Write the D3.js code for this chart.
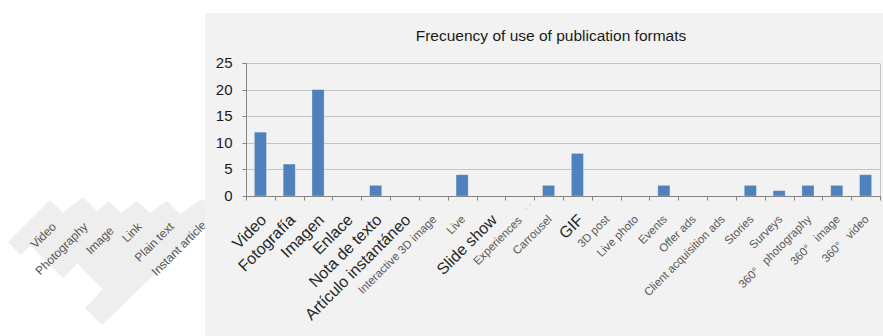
<!DOCTYPE html>
<html>
<head>
<meta charset="utf-8">
<script src="https://cdn.jsdelivr.net/npm/d3@7"></script>
<style>
  html, body { margin: 0; padding: 0; background: #ffffff; }
  svg { display: block; font-family: "Liberation Sans", Arial, sans-serif; }
</style>
</head>
<body>
<svg id="chart" width="883" height="336"></svg>
<script>
// ---- data ----
const title = "Frecuency of use of publication formats";
const categories = [
  "Video", "Fotografía", "Imagen", "Enlace", "Nota de texto", "Artículo instantáneo",
  "Interactive 3D image", "Live", "Slide show", "Experiences", "Carrousel", "GIF",
  "3D post", "Live photo", "Events", "Offer ads", "Client acquisition ads", "Stories",
  "Surveys", "360°\u00a0\u00a0\u00a0photography", "360°\u00a0\u00a0\u00a0image", "360°\u00a0\u00a0\u00a0video"
];
const values = [12, 6, 20, 0, 2, 0, 0, 4, 0, 0, 2, 8, 0, 0, 2, 0, 0, 2, 1, 2, 2, 4];
const yTicks = [0, 5, 10, 15, 20, 25];
const overlayLabels = ["Video", "Photography", "Image", "Link", "Plain text", "Instant article"];

// ---- layout / style ----
const W = 883, H = 336;
const plot = { left: 246, right: 880, top: 63, bottom: 196 };
const bigLabels = new Set(["Video", "Fotografía", "Imagen", "Enlace", "Nota de texto",
  "Artículo instantáneo", "Slide show", "GIF"]);

const svg = d3.select("#chart");

// overlay of translated labels (left, white area)
const overlayShape = [
  [8,242],[50,200],[63,213],[83,197],[97,211],[109,201],[121,213],[137,201],[150,213],
  [167,201],[180,214],[202,199],[215,210],[215,216],[102,325],[85,308],[103,289],
  [93,279],[77.5,263.5],[63,278],[50,265],[30.5,245.5],[21,255]
];
svg.append("path")
  .attr("d", d3.line()(overlayShape) + "Z")
  .attr("fill", "#eeeeee");
const overlayEnds = [[57,227.5],[88.5,227.5],[114.5,231.5],[142.5,227.5],[174.5,227.5],[207,226]];
svg.append("g").selectAll("text")
  .data(overlayLabels)
  .join("text")
  .attr("transform", (d, i) => `translate(${overlayEnds[i][0]},${overlayEnds[i][1]}) rotate(-45)`)
  .attr("text-anchor", "end")
  .attr("font-size", "12px")
  .attr("fill", "#555555")
  .text(d => d);

// chart panel
svg.append("rect")
  .attr("x", 205).attr("y", 13)
  .attr("width", W - 205).attr("height", H - 13)
  .attr("fill", "#f2f2f2");

// title
svg.append("text")
  .attr("x", 551).attr("y", 40.5)
  .attr("text-anchor", "middle")
  .attr("font-size", "15.5px")
  .attr("fill", "#1a1a1a")
  .text(title);

// scales
const x = d3.scaleBand().domain(categories).range([plot.left, plot.right]);
const y = d3.scaleLinear().domain([0, 25]).range([plot.bottom, plot.top]);
const px = v => Math.round(v) + 0.5;

// gridlines
svg.append("g").selectAll("line")
  .data(yTicks.filter(t => t > 0))
  .join("line")
  .attr("x1", plot.left).attr("x2", plot.right)
  .attr("y1", d => px(y(d))).attr("y2", d => px(y(d)))
  .attr("stroke", "#c4c4c4").attr("stroke-width", 1);
// plot area right border
svg.append("line")
  .attr("x1", px(plot.right)).attr("x2", px(plot.right))
  .attr("y1", px(y(25))).attr("y2", px(y(0)))
  .attr("stroke", "#c4c4c4");

// bars
const barW = x.bandwidth() * 0.42;
svg.append("g").selectAll("rect")
  .data(values.map((v, i) => ({ c: categories[i], v })))
  .join("rect")
  .attr("x", d => x(d.c) + (x.bandwidth() - barW) / 2)
  .attr("width", barW)
  .attr("y", d => y(d.v))
  .attr("height", d => y(0) - y(d.v))
  .attr("fill", "#4f81bd")
  .attr("stroke", "rgba(255,255,255,0.35)")
  .attr("stroke-width", 0.8);

// y axis
const yAxis = svg.append("g").attr("transform", `translate(${px(plot.left)},0)`)
  .call(d3.axisLeft(y).tickValues(yTicks).tickSize(4).tickPadding(10).tickFormat(d3.format("d")));
yAxis.select(".domain").attr("stroke", "#868686").attr("d", `M-4,${px(y(25))}H0V${px(y(0))}`);
yAxis.selectAll(".tick line").attr("stroke", "#868686");
yAxis.selectAll(".tick").attr("transform", d => `translate(0,${px(y(d))})`);
yAxis.selectAll(".tick text")
  .attr("font-size", "15px")
  .attr("font-family", "Liberation Sans, Arial, sans-serif")
  .attr("fill", "#1a1a1a");

// x axis line + ticks at band boundaries
svg.append("line")
  .attr("x1", plot.left).attr("x2", plot.right + 1)
  .attr("y1", px(y(0))).attr("y2", px(y(0)))
  .attr("stroke", "#868686");
const boundaries = categories.map(c => x(c)).concat([plot.right]);
svg.append("g").selectAll("line")
  .data(boundaries)
  .join("line")
  .attr("x1", d => px(d)).attr("x2", d => px(d))
  .attr("y1", px(y(0))).attr("y2", px(y(0)) + 4)
  .attr("stroke", "#868686");

// x labels
const xl = svg.append("g").selectAll("text")
  .data(categories)
  .join("text")
  .attr("transform", d => {
    const cx = x(d) + x.bandwidth() / 2;
    if (bigLabels.has(d)) return `translate(${cx + 7},${plot.bottom + 25}) rotate(-45)`;
    if (d === "Experiences") return `translate(${cx + 16},${plot.bottom + 12}) rotate(-45)`;
    return `translate(${cx + 4},${plot.bottom + 24}) rotate(-45)`;
  })
  .attr("text-anchor", "end")
  .attr("font-size", d => bigLabels.has(d) ? "16px" : "11.5px")
  .attr("fill", d => bigLabels.has(d) ? "#262626" : "#595959")
  .text(d => d);
// faint trailing marks after "Experiences"
xl.filter(d => d === "Experiences")
  .append("tspan")
  .attr("fill", "#8a8a8a")
  .attr("font-size", "9px")
  .text("\u00a0\u00a0\u00a0\u00a0\u02d9\u00a0\u02d9");
</script>
</body>
</html>
